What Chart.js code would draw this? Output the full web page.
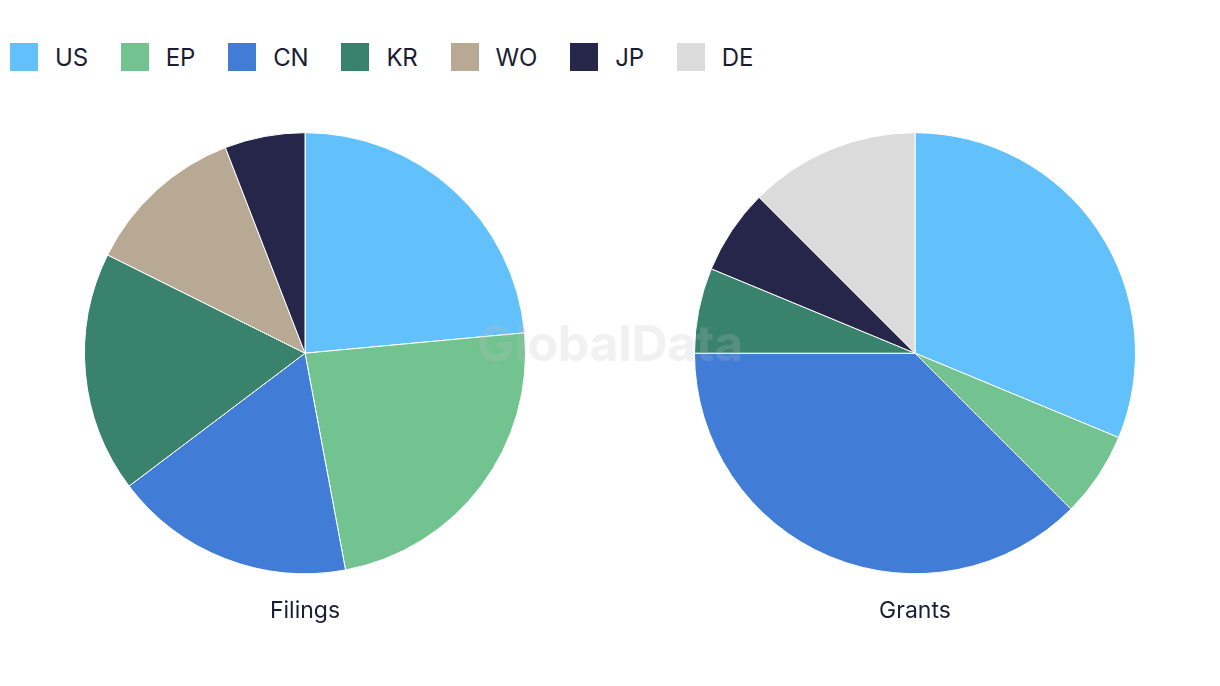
<!DOCTYPE html>
<html>
<head>
<meta charset="utf-8">
<script src="https://cdn.jsdelivr.net/npm/chart.js@4"></script>
<style>
  html, body { margin: 0; padding: 0; background: #ffffff; }
  body { width: 1220px; height: 686px; position: relative; overflow: hidden; font-family: Inter, "Noto Sans", sans-serif; }
  #legend { position: absolute; left: 10px; top: 43px; display: flex; align-items: center; }
  .item { display: flex; align-items: center; margin-right: 33px; }
  .box { width: 28px; height: 28px; margin-right: 17px; }
  .lbl { font-size: 24px; color: #1c1d33; line-height: 28px; letter-spacing: -0.2px; position: relative; top: 1px; }
  .wrap { position: absolute; top: 0; width: 610px; height: 686px; }
  #w1 { left: 0; }
  #w2 { left: 610px; }
  #wm { position: absolute; left: 0; top: 313px; width: 1220px; text-align: center; font-size: 50px; font-weight: 700; color: rgba(190,190,190,0.22); pointer-events: none; letter-spacing: -0.3px; }
</style>
</head>
<body>
<div id="legend"></div>
<div class="wrap" id="w1"><canvas id="c1"></canvas></div>
<div class="wrap" id="w2"><canvas id="c2"></canvas></div>
<div id="wm">GlobalData</div>
<script>
const categories = ["US", "EP", "CN", "KR", "WO", "JP", "DE"];
const colors = ["#62c0fa", "#73c391", "#417cd6", "#39826b", "#b8a994", "#26264a", "#dbdbdb"];
const filings = [4, 4, 3, 3, 2, 1, 0];
const grants = [5, 1, 6, 1, 0, 1, 2];
const chartTitles = ["Filings", "Grants"];

const legend = document.getElementById('legend');
categories.forEach((c, i) => {
  const it = document.createElement('div');
  it.className = 'item';
  const b = document.createElement('div');
  b.className = 'box';
  b.style.background = colors[i];
  const l = document.createElement('span');
  l.className = 'lbl';
  l.textContent = c;
  it.appendChild(b); it.appendChild(l);
  legend.appendChild(it);
});

function makePie(id, data, title) {
  return new Chart(document.getElementById(id), {
    type: 'pie',
    data: {
      labels: categories,
      datasets: [{ data: data, backgroundColor: colors, borderColor: '#ffffff', borderWidth: 1, hoverOffset: 0 }]
    },
    options: {
      responsive: true,
      maintainAspectRatio: false,
      animation: false,
      layout: { padding: { top: 131, bottom: 61, left: 84, right: 84 } },
      plugins: {
        legend: { display: false },
        tooltip: { enabled: false },
        title: {
          display: true,
          text: title,
          position: 'bottom',
          color: '#1c1d33',
          font: { family: 'Inter, "Noto Sans", sans-serif', size: 23, weight: 'normal' },
          padding: { top: 22, bottom: 0 }
        }
      }
    }
  });
}
makePie('c1', filings, chartTitles[0]);
makePie('c2', grants, chartTitles[1]);
</script>
</body>
</html>
